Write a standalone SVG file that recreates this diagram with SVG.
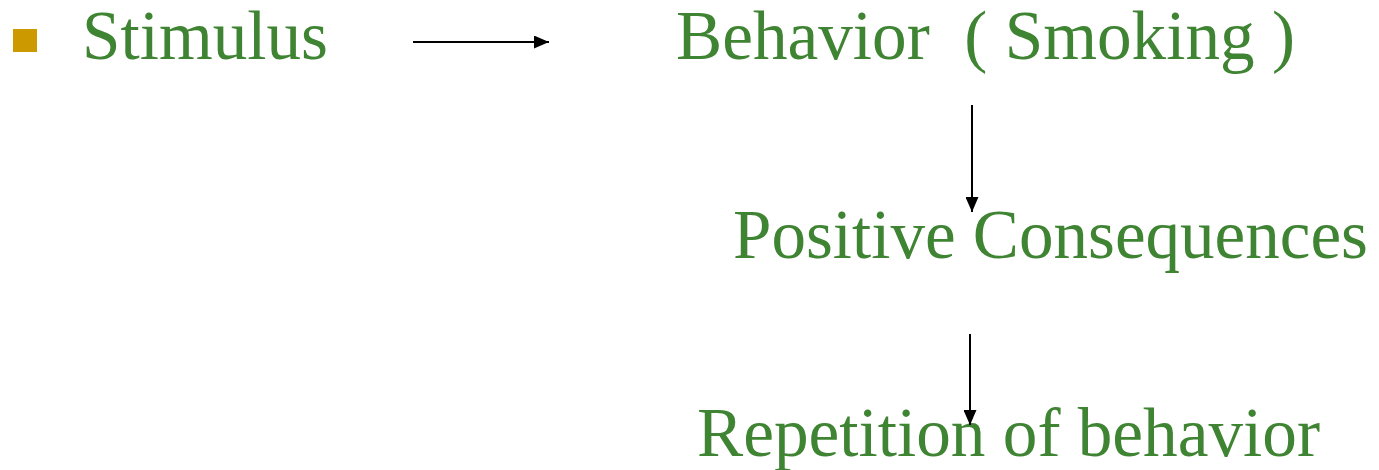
<svg xmlns="http://www.w3.org/2000/svg" width="1379" height="470" viewBox="0 0 1379 470">
<style>
.t{font-family:"Liberation Serif","Times New Roman",serif;font-size:69px;fill:#3F8433;white-space:pre}
.c{stroke:#000;stroke-width:2;fill:none}
</style>
<defs>
<marker id="ah" viewBox="0 0 10 10" refX="10" refY="5" markerWidth="15" markerHeight="13" markerUnits="userSpaceOnUse" orient="auto" preserveAspectRatio="none">
<path d="M0,0 L10,5 L0,10 z" fill="#000"/>
</marker>
</defs>
<rect width="1379" height="470" fill="#fff"/>
<g id="bullet"><rect x="13" y="29" width="24" height="23" fill="#CC9900"/></g>
<g id="stimulus"><text class="t" x="82" y="59" textLength="246" lengthAdjust="spacingAndGlyphs">Stimulus</text></g>
<g id="behavior"><text class="t" x="676" y="59" xml:space="preserve" textLength="619" lengthAdjust="spacingAndGlyphs">Behavior  ( Smoking )</text></g>
<g id="positive"><text class="t" x="733" y="258" textLength="635" lengthAdjust="spacingAndGlyphs">Positive Consequences</text></g>
<g id="repetition"><text class="t" x="697" y="456" textLength="623" lengthAdjust="spacingAndGlyphs">Repetition of behavior</text></g>
<g id="connectors">
<line class="c" x1="413" y1="42" x2="549" y2="42" marker-end="url(#ah)"/>
<line class="c" x1="972" y1="105" x2="972" y2="212" marker-end="url(#ah)"/>
<line class="c" x1="970" y1="334" x2="970" y2="425" marker-end="url(#ah)"/>
</g>
</svg>
